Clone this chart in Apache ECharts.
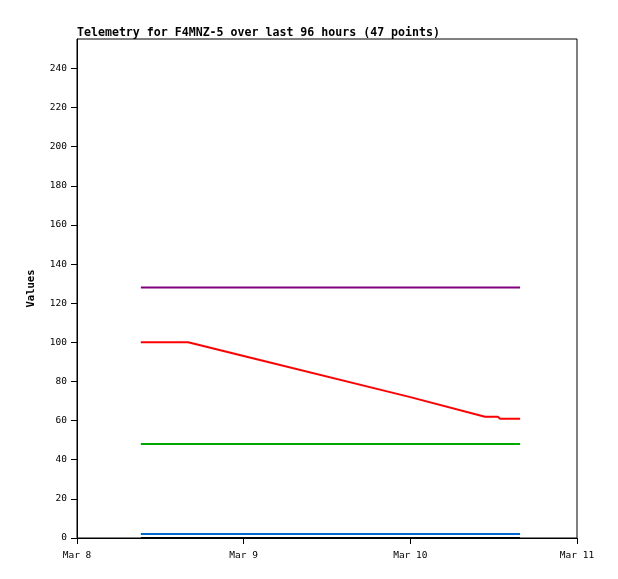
<!DOCTYPE html>
<html>
<head>
<meta charset="utf-8">
<script src="https://cdn.jsdelivr.net/npm/echarts@6/dist/echarts.min.js"></script>
<style>html,body{margin:0;padding:0;background:#fff}#c{width:618px;height:579px}</style>
</head>
<body>
<div id="c"></div>
<script>
// x values are hours since Mar 8 00:00
const xTickLabels = ['Mar 8', 'Mar 9', 'Mar 10', 'Mar 11'];
const yTicks = [0, 20, 40, 60, 80, 100, 120, 140, 160, 180, 200, 220, 240];
const purpleSeries = [[9.2, 128], [63.8, 128]];
const redSeries = [[9.2, 100], [16.0, 100], [24.0, 93], [48.0, 72], [58.75, 62], [60.6, 62], [60.9, 61], [63.8, 61]];
const greenSeries = [[9.2, 48], [63.8, 48]];
const blueSeries = [[9.2, 2], [63.8, 2]];
const blackSeries = [[9.2, 0], [63.8, 0]];

const mono = '"DejaVu Sans Mono", monospace';
const chart = echarts.init(document.getElementById('c'));
function line(data, color) {
  return { type: 'line', data: data, showSymbol: false, symbol: 'none',
    lineStyle: { color: color, width: 2 }, itemStyle: { color: color }, animation: false };
}
chart.setOption({
  animation: false,
  title: { text: 'Telemetry for F4MNZ-5 over last 96 hours (47 points)', left: 72, top: 22,
    textStyle: { fontFamily: mono, fontSize: 11.6, fontWeight: 'bold', color: '#000' } },
  grid: { left: 77, right: 41, top: 39, bottom: 41, show: true, borderColor: '#000', borderWidth: 1, backgroundColor: '#fff' },
  xAxis: { type: 'value', min: 0, max: 72, interval: 24,
    axisLine: { lineStyle: { color: '#000', width: 1 } },
    axisTick: { length: 6, lineStyle: { color: '#000' } },
    splitLine: { show: false },
    axisLabel: { margin: 13, fontFamily: mono, fontSize: 9.5, color: '#000',
      formatter: v => xTickLabels[Math.round(v / 24)] } },
  yAxis: { type: 'value', min: 0, max: 255, interval: 20, name: 'Values', nameLocation: 'middle', nameGap: 40,
    nameTextStyle: { fontFamily: mono, fontSize: 10.5, fontWeight: 'bold', color: '#000' },
    axisLine: { show: true, lineStyle: { color: '#000', width: 1 } },
    axisTick: { show: true, length: 6, lineStyle: { color: '#000' } },
    splitLine: { show: false },
    axisLabel: { margin: 10, fontFamily: mono, fontSize: 9.5, color: '#000', showMaxLabel: false,
      formatter: v => (yTicks.indexOf(v) >= 0 ? String(v) : '') } },
  series: [
    line(purpleSeries, '#800080'),
    line(redSeries, '#ff0000'),
    line(greenSeries, '#00a800'),
    line(blueSeries, '#0066cc'),
    line(blackSeries, '#000000')
  ]
});
</script>
</body>
</html>
